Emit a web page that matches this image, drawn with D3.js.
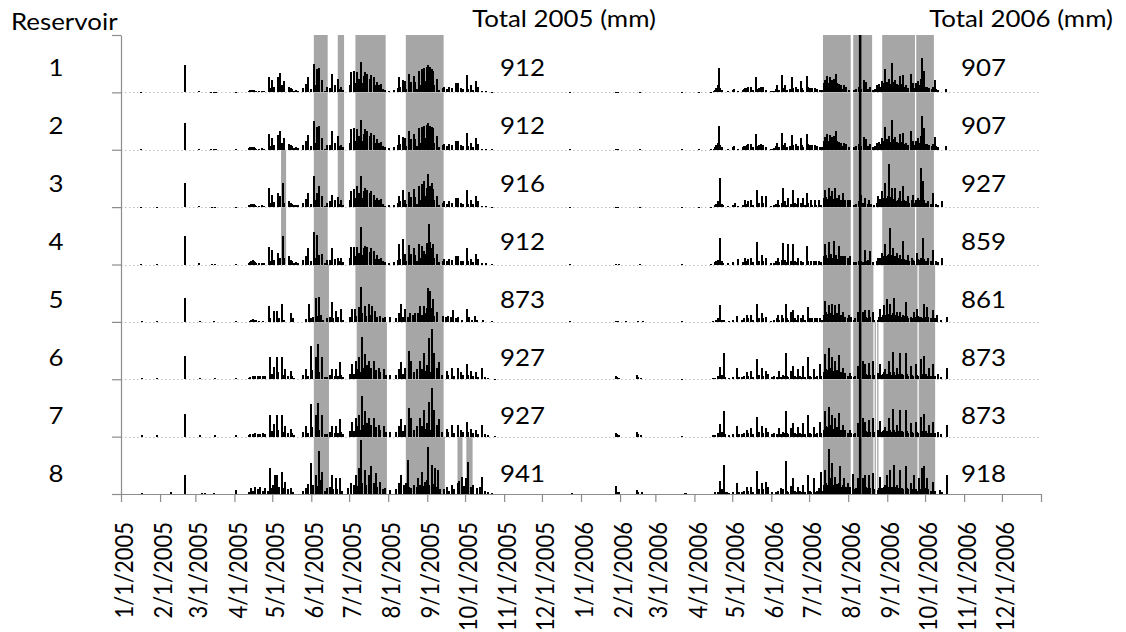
<!DOCTYPE html>
<html>
<head>
<meta charset="utf-8">
<script src="https://cdn.jsdelivr.net/npm/d3@7"></script>
<style>
  html, body { margin: 0; padding: 0; background: #fff; }
  svg { display: block; font-family: Lato, "Noto Sans", sans-serif; }
</style>
</head>
<body>
<svg id="chart" width="1126" height="632"></svg>
<script>
// ---- data ---------------------------------------------------------------
const reservoirs = ["1", "2", "3", "4", "5", "6", "7", "8"];
const total2005 = [912, 912, 916, 912, 873, 927, 927, 941];
const total2006 = [907, 907, 927, 859, 861, 873, 873, 918];
const headerLeft = "Reservoir";
const header2005 = "Total 2005 (mm)";
const header2006 = "Total 2006 (mm)";

// daily rainfall: [day offset from 1 January, mm]
const rain05_r1 = [[15,.5],[50,23.5],[61,1],[71,.5],[73,.5],[75,.5],[91,.5],[101,1.5],[102,2],[103,2.5],[104,2.5],[105,2],[106,1.5],[107,1],[109,1],[111,1.5],[113,1],[117,13.5],[118,3.5],[119,10.5],[121,4.5],[124,13],[126,17],[127,6],[129,10],[133,5],[134,4],[135,3],[137,1.5],[138,2],[140,1.5],[144,4],[146,7.5],[148,13],[150,3],[153,25],[154,6],[155,20],[157,21],[159,10.5],[161,1],[163,4.5],[165,4],[167,16],[169,6],[172,12],[173,3],[174,4.5],[176,2],[181,6],[182,18],[184,19],[185,8],[187,18],[188,12],[190,26.5],[191,8],[192,14],[193,18],[194,6],[195,16],[197,12],[198,15],[200,13],[201,6],[203,9],[204,6],[206,7],[207,3],[209,2],[212,1.5],[216,2],[219,4],[220,13],[221,5],[223,11],[225,10],[226,3],[228,16],[229,6],[230,9],[232,14],[233,9],[234,3],[236,19],[237,6],[238,20],[239,8],[240,21],[241,10],[242,22],[243,24],[244,12],[245,22],[246,20],[247,19],[248,6],[250,12],[252,2],[255,4],[256,5],[258,3],[260,5],[262,4],[265,8],[267,8],[269,4],[271,3],[274,15],[275,3],[277,6],[279,2.5],[281,10],[282,4],[283,5],[286,1],[289,1],[294,.5],[356,.5]];
const rain05_r2 = [[15,.5],[50,23],[61,1],[71,.5],[73,.5],[75,.5],[91,.5],[101,1.5],[102,2],[103,2.5],[104,2.5],[105,2],[106,1.5],[107,1],[109,1],[111,1.5],[113,1],[117,13.5],[118,3.5],[119,10.5],[121,4.5],[124,13],[126,16],[127,6],[129,10],[133,5],[134,4],[135,3],[137,1.5],[138,2],[140,1.5],[144,4],[146,7.5],[148,13],[150,3],[153,25],[154,6],[155,20],[157,21],[159,10.5],[161,1],[163,4.5],[165,4],[167,16],[169,6],[172,12],[173,3],[174,4.5],[176,2],[181,6],[182,18],[184,19],[185,8],[187,18],[188,12],[190,26],[191,8],[192,14],[193,18],[194,6],[195,16],[197,12],[198,15],[200,13],[201,6],[203,9],[204,6],[206,7],[207,3],[209,2],[212,1.5],[216,2],[219,4],[220,13],[221,5],[223,11],[225,10],[226,3],[228,16],[229,6],[230,9],[232,14],[233,9],[234,3],[236,19],[237,6],[238,20],[239,8],[240,21],[241,10],[242,22],[243,23.5],[244,12],[245,21],[246,20],[247,19],[248,6],[250,12],[252,2],[255,4],[256,5],[258,3],[260,5],[262,4],[265,8],[267,8],[269,4],[271,3],[274,15],[275,3],[277,6],[279,2.5],[281,10],[282,4],[283,5],[286,1],[289,1],[294,.5],[356,.5]];
const rain05_r3 = [[15,.5],[28,.3],[50,21],[61,1],[72,.5],[74,.5],[91,.5],[101,1.5],[102,2],[103,2.5],[104,3],[105,2.5],[106,1.5],[107,1],[109,1],[111,1.5],[113,1],[117,17],[118,3.5],[119,11],[121,4.5],[124,12],[126,10],[128,21],[129,4],[133,5],[134,4],[135,3],[137,1.5],[138,2],[140,1.5],[144,4],[146,7.5],[148,12],[150,3],[153,27],[154,6],[155,12],[157,18],[159,10],[161,1],[163,4],[165,5],[167,11],[169,6],[172,9],[173,3],[174,6],[176,2],[181,6],[182,14],[184,16],[185,8],[187,18],[188,12],[190,27],[191,8],[192,14],[193,17],[194,6],[195,15],[197,12],[198,14],[200,11],[201,6],[203,8],[204,6],[206,7],[207,3],[209,1],[212,1.5],[216,2],[219,4],[220,10],[221,5],[223,15],[225,6],[226,3],[228,13],[229,6],[230,9],[232,16],[233,9],[234,3],[236,18],[237,6],[238,20],[239,8],[240,23],[241,10],[242,17],[243,29],[244,12],[245,18],[246,21],[247,16],[248,6],[250,10],[252,2],[255,4],[256,5],[258,3],[260,5],[262,4],[265,8],[267,8],[269,4],[271,3],[274,15],[275,3],[277,6],[279,2.5],[281,10],[282,4],[283,5],[286,1],[289,1],[294,.5],[356,.5]];
const rain05_r4 = [[15,.5],[28,.5],[50,24.5],[61,1],[72,.5],[74,.5],[91,.5],[101,1.5],[102,2.5],[103,3],[104,4],[105,3],[106,2],[107,1],[109,1],[111,1.5],[113,1],[117,15],[118,3],[119,13],[121,4],[124,10],[126,6],[128,25],[129,6],[133,7],[134,4],[135,3],[137,1.5],[138,2],[140,1.5],[144,4],[146,7],[148,14],[150,3],[153,28],[154,6],[155,26],[157,8],[159,9],[161,1],[163,4],[165,4],[167,14],[169,5],[172,6],[173,3],[174,6],[176,2],[181,6],[182,15],[184,15],[185,7],[187,15],[188,10],[190,33],[191,8],[192,14],[193,16],[194,6],[195,15],[197,11],[198,14],[200,12],[201,5],[203,8],[204,5],[206,6],[207,3],[209,2],[212,1.5],[216,2],[219,4],[220,18],[221,5],[223,22],[225,9],[226,3],[228,17],[229,6],[230,9],[232,14],[233,8],[234,3],[236,18],[237,6],[238,16],[239,8],[240,12],[241,9],[242,19],[243,14],[244,35],[245,20],[246,14],[247,18],[248,6],[250,9],[252,2],[255,3],[256,5],[258,3],[260,5],[262,4],[265,7],[267,7],[269,3],[271,3],[274,14],[275,3],[277,5],[279,2.5],[281,9],[282,4],[283,5],[286,1],[289,1],[294,.5],[356,.5]];
const rain05_r5 = [[16,.5],[28,.5],[50,20.7],[62,1],[73,.5],[91,.5],[102,1],[103,2],[104,2.5],[105,2],[107,1.5],[109,1],[112,1],[117,14],[118,3],[121,9.6],[123,9.6],[125,3],[127,16],[129,2],[134,8],[136,3],[146,2.3],[149,16],[150,3],[152,4],[154,21],[155,5],[157,22],[158,6],[160,2],[163,3],[165,4],[167,17],[168,3],[170,9.6],[172,4],[174,11],[176,2],[181,4],[183,11],[185,11],[186,5],[188,13],[190,30.5],[191,8],[193,14],[194,5],[196,16],[197,6],[199,14],[201,9.6],[203,4],[205,5],[207,3],[209,4],[213,4],[218,3],[220,8],[222,15.4],[223,4],[225,11],[227,4],[229,8],[231,6],[233,8],[235,8],[237,13.4],[238,6],[240,13.4],[241,8],[242,12],[243,29.4],[244,10],[245,27],[246,12],[247,20],[248,5],[250,9],[255,5],[257,4],[259,5],[261,4],[263,10],[265,3],[267,4],[270,2],[274,11],[276,4],[278,2],[280,5],[282,2],[287,2],[294,.5],[356,.5]];
const rain05_r6 = [[16,1.5],[28,1],[50,20],[62,1],[74,1],[91,1.5],[101,1.5],[102,2],[104,2.5],[105,2.5],[106,3],[108,2.5],[110,2.5],[112,3],[114,2.5],[118,19],[119,5],[121,11],[123,19],[124,6],[127,19],[128,4],[130,9],[132,3],[134,7],[135,3],[137,1.5],[144,4],[146,9],[148,3],[150,29],[151,8],[154,19],[156,30.5],[157,6],[159,19],[161,2],[163,2],[165,4],[167,9],[169,3],[170,9],[172,3],[173,15],[174,4],[176,2],[181,5],[183,13],[184,5],[186,16],[187,9],[188,19],[189,6],[191,36.5],[192,10],[193,22],[195,12],[196,16],[198,10],[200,16],[201,5],[202,8],[204,10],[205,6],[208,9],[210,4],[213,4],[218,4],[220,9],[222,15],[223,5],[225,10],[228,25],[229,8],[230,16],[232,6],[234,9],[237,16],[238,9],[240,23],[241,7],[242,12],[244,36],[245,6],[246,44],[247,20],[248,23],[250,10],[252,15],[254,4],[258,7],[259,4],[262,10],[264,3],[267,10],[269,6],[271,4],[274,13],[275,4],[277,7],[279,3],[281,6],[283,2],[286,10],[288,2],[291,1.5],[296,.5]];
const rain05_r7 = [[16,1.5],[28,1],[50,20],[62,1],[74,1],[91,1.5],[101,1.5],[102,2],[104,2.5],[105,2.5],[106,3],[108,2.5],[110,2.5],[112,3],[114,2.5],[118,19],[119,5],[121,11],[123,19],[124,6],[127,19],[128,4],[130,9],[132,3],[134,7],[135,3],[137,1.5],[144,4],[146,9],[148,3],[150,28],[151,8],[154,19],[156,29.7],[157,6],[159,19],[161,2],[163,2],[165,4],[167,9],[169,3],[170,9],[172,3],[173,15],[174,4],[176,2],[181,5],[183,13],[184,5],[186,16],[187,9],[188,19],[189,6],[191,35.5],[192,10],[193,22],[195,12],[196,16],[198,10],[200,16],[201,5],[202,8],[204,10],[205,6],[208,9],[210,4],[213,4],[218,4],[220,9],[222,15],[223,5],[225,10],[228,25],[229,8],[230,16],[232,6],[234,9],[237,16],[238,9],[240,23],[241,7],[242,12],[244,30],[245,6],[246,42.8],[247,20],[248,23],[250,10],[252,15],[254,4],[258,7],[259,4],[262,10],[264,3],[267,10],[269,6],[271,4],[274,13],[275,4],[277,7],[279,3],[281,6],[283,2],[286,10],[288,2],[291,1.5],[296,.5]];
const rain05_r8 = [[16,.5],[39,2],[50,16.6],[64,1],[66,.5],[73,1],[91,3.5],[101,2],[103,5],[104,3],[106,6],[108,4],[110,6.4],[112,3],[114,5],[116,3],[118,22.4],[119,5],[120,8],[122,16.6],[123,16.6],[125,6],[127,19.5],[128,5],[130,10.8],[132,4],[134,5],[136,2],[144,3],[146,5],[148,9],[150,26.8],[151,6],[152,8],[154,16.6],[155,7],[157,37.6],[158,12],[159,19.5],[161,3],[163,5],[165,6],[167,16.6],[168,4],[170,13.7],[171,4],[173,13.7],[175,3],[180,5],[182,9.3],[184,8],[186,16.6],[187,7],[188,22.4],[190,47],[191,10],[193,21],[194,8],[196,16.6],[197,6],[198,24],[200,10],[202,18],[203,6],[205,10.8],[207,4],[209,5],[213,3.5],[218,4],[220,9.3],[221,5],[222,16.6],[224,8],[226,10],[227,29.7],[228,6],[230,5],[232,8],[234,6],[235,13.7],[237,8],[238,19.5],[239,7],[241,10.8],[242,12],[243,41.3],[244,8],[246,25.3],[247,9],[249,22.4],[250,6],[251,21],[253,4],[256,4],[258,6.4],[260,3],[262,7.9],[264,4],[267,9.3],[268,11],[270,15],[272,7],[273,14],[275,28.2],[277,6],[279,7.9],[282,5],[284,6],[286,15],[288,3],[291,2],[294,.5],[357,.5]];

const rain06_r1 = [[27,.5],[29,.5],[46,.5],[80,.5],[93,.5],[103,.5],[105,1],[106,2],[107,4],[108,6],[109,21],[110,4],[111,2],[116,1],[120,2],[121,3],[124,1],[128,2],[129,3],[130,3.5],[131,4],[132,5],[134,5],[136,2],[138,13.5],[139,3],[141,4],[142,5],[143,3],[144,4.5],[146,2.5],[150,1],[151,1],[153,1.5],[154,3],[155,6],[157,2],[159,15],[160,4],[161,6],[163,2],[165,3],[167,13],[168,4],[170,5],[172,3],[174,10],[175,4],[176,2],[179,14],[180,5],[181,4],[182,2],[183,4],[185,4],[187,3],[189,2],[191,2],[192,8],[193,11],[194,9],[195,14],[196,8],[197,13],[198,6],[199,11],[200,12],[201,5],[202,16],[203,8],[204,7],[205,4],[206,6],[207,3],[208,6],[209,4],[210,5],[212,2],[216,2],[218,3],[220,5],[222,3],[224,11],[225,4],[226,9],[227,3],[229,5],[231,2],[233,3],[234,6],[235,4],[236,7],[237,5],[238,10],[239,5],[240,8],[241,20],[242,9],[243,6],[244,12],[245,7],[246,26],[247,9],[248,5],[249,11],[250,7],[251,4],[252,6],[253,14],[254,7],[255,15],[256,5],[257,6],[258,3],[259,4],[261,16],[262,6],[263,8],[264,4],[265,8],[266,5],[267,10],[268,6],[269,12],[270,30],[271,8],[272,19],[273,5],[274,5],[275,3],[276,4],[278,3],[279,5],[280,11],[281,3],[283,2],[289,3]];
const rain06_r2 = [[27,.5],[29,.5],[46,.5],[80,.5],[93,.5],[103,.5],[105,1],[106,2],[107,4],[108,6],[109,20.5],[110,4],[111,2],[116,1],[120,2],[121,3],[124,1],[128,2],[129,3],[130,3.5],[131,4],[132,5],[134,5],[136,2],[138,13.5],[139,3],[141,4],[142,5],[143,3],[144,4.5],[146,2.5],[150,1],[151,1],[153,1.5],[154,3],[155,6],[157,2],[159,15],[160,4],[161,6],[163,2],[165,3],[167,13],[168,4],[170,5],[172,3],[174,10],[175,4],[176,2],[179,14],[180,5],[181,4],[182,2],[183,4],[185,4],[187,3],[189,2],[191,2],[192,8],[193,11],[194,9],[195,14],[196,8],[197,13],[198,6],[199,11],[200,12],[201,5],[202,16],[203,8],[204,7],[205,4],[206,6],[207,3],[208,6],[209,4],[210,5],[212,2],[216,2],[218,3],[220,5],[222,3],[224,11],[225,4],[226,9],[227,3],[229,5],[231,2],[233,3],[234,6],[235,4],[236,7],[237,5],[238,10],[239,5],[240,8],[241,20],[242,9],[243,6],[244,12],[245,7],[246,25.5],[247,9],[248,5],[249,11],[250,7],[251,4],[252,6],[253,14],[254,7],[255,15],[256,5],[257,6],[258,3],[259,4],[261,16],[262,6],[263,8],[264,4],[265,8],[266,5],[267,10],[268,6],[269,12],[270,29],[271,8],[272,19],[273,5],[274,5],[275,3],[276,4],[278,3],[279,5],[280,11],[281,3],[283,2],[289,3]];
const rain06_r3 = [[27,.5],[29,.5],[46,.5],[80,.5],[93,.5],[103,.5],[106,2],[107,3],[108,5],[110,25],[111,3],[112,2],[116,1],[120,2],[122,3.5],[124,1],[128,2],[130,6.4],[131,3],[132,5],[134,6.4],[136,2],[139,15],[140,3],[141,4],[143,9.3],[144,4],[146,9.3],[150,1],[153,1.5],[154,3],[156,6.4],[157,2],[159,4],[160,17],[161,5],[163,2],[164,8],[166,3],[168,15],[169,4],[170,3],[172,8],[174,4],[176,8],[177,2],[179,12],[180,4],[182,6.4],[183,2],[185,6.4],[186,2],[188,6.4],[190,2],[192,8],[193,15],[194,9],[195,7],[196,16.6],[197,6],[198,10],[199,13.7],[200,7],[201,16.6],[202,6],[203,8],[204,10.8],[205,4],[206,6],[207,12.2],[208,5],[209,6.4],[211,6.4],[213,6.4],[216,2],[218,3],[220,5],[222,10.8],[223,4],[225,8],[227,3],[228,6.4],[230,3],[232,2],[234,4],[235,9.3],[236,5],[237,7],[238,13.7],[239,5],[240,8],[241,21],[242,8],[243,10],[244,37.3],[245,9],[246,16.6],[247,6],[248,7],[249,16.6],[250,5],[251,6],[252,8],[253,13.7],[254,5],[255,18],[256,6],[257,5],[258,3],[259,9.3],[260,4],[262,6],[263,10.8],[264,4],[265,6],[266,5],[267,8],[268,6],[269,34.2],[270,9],[271,22.4],[272,6],[273,4],[275,5],[277,3],[279,12.2],[281,3],[283,2],[286,5]];
const rain06_r4 = [[27,.5],[30,.5],[46,.5],[80,.5],[103,.5],[106,2],[107,3],[108,4],[110,23.3],[111,3],[112,1.5],[116,1],[120,2],[124,4.4],[128,2],[130,5.8],[131,3],[132,5],[134,5.8],[136,2],[139,19.8],[140,3],[141,3],[143,8.7],[144,3],[146,5.8],[150,1],[153,1.5],[154,3],[156,5.8],[157,2],[159,4],[160,19],[161,4],[163,2],[164,17.5],[166,3],[168,17.5],[169,3],[170,2],[172,5.8],[174,3],[176,2],[179,16],[180,3],[182,3],[184,3],[186,3],[188,3],[190,2],[192,7],[193,17.5],[194,8],[195,6],[196,19.8],[197,7],[198,9],[199,6],[200,20.4],[201,7],[202,8],[203,5],[204,16],[205,5],[206,7],[207,7],[208,4],[209,7],[211,6],[213,7],[216,2],[218,2],[220,3],[222,3],[223,2],[225,13],[226,3],[227,4],[229,11.6],[231,2],[234,3],[235,5.8],[236,4],[237,6],[238,10.2],[239,4],[240,7],[241,17.5],[242,7],[243,8],[244,9],[245,32],[246,8],[247,14.5],[248,5],[249,7],[250,10.2],[251,4],[252,6],[253,8],[254,5],[255,20.4],[256,5],[257,4],[258,3],[259,8.7],[260,3],[262,5.8],[263,4],[264,3],[266,10.2],[267,5],[268,4],[269,6],[270,4],[271,22.7],[272,5],[273,3],[275,5.8],[277,3],[279,13],[281,3],[283,2],[286,5.8]];
const rain06_r5 = [[27,.5],[29,.5],[35,.5],[45,.5],[49,.5],[80,.5],[104,.5],[107,2],[108,3],[110,14.5],[111,2],[113,1.5],[117,1],[120,1.5],[123,5],[127,2],[129,3],[131,6],[132,3],[134,6],[136,2],[139,16],[140,3],[141,3],[143,7.3],[144,3],[146,4.4],[150,1],[153,1.5],[155,3],[156,5.8],[157,2],[159,5.8],[160,3],[162,16],[163,3],[164,2],[166,8.7],[167,3],[168,10],[169,3],[170,2],[172,5.8],[174,3],[176,5.8],[177,2],[180,13],[181,3],[183,3],[185,3],[187,3],[189,3],[191,2],[192,6],[193,18],[194,9],[195,7],[196,14.5],[197,6],[198,8],[199,16],[200,6],[201,14.5],[202,5],[203,8],[204,16],[205,4],[206,6],[207,8.7],[208,3],[209,4.4],[211,3],[212,5.8],[214,4.4],[216,2],[217,3],[219,8.7],[220,3],[221,2],[223,8.7],[224,3],[225,10],[226,4],[227,3],[228,10],[229,4],[231,8.7],[232,2],[235,1.5],[236,4],[237,11.6],[238,4],[239,6],[240,14.5],[241,6],[242,19.5],[243,7],[244,5],[245,16],[246,6],[247,8],[248,21],[249,6],[250,8.7],[251,4],[252,5],[253,8.7],[254,4],[255,6],[256,5],[257,17.5],[258,5],[259,3],[261,4.4],[262,3],[264,8.7],[265,4],[266,11.6],[267,5],[268,4],[269,4],[270,3],[272,16],[273,4],[274,13],[275,4],[277,3],[279,10],[280,3],[282,5.8],[285,2],[290,4.4]];
const rain06_r6 = [[27,3],[28,2],[30,1],[44,3.8],[45,2],[47,1.5],[80,.5],[104,1.5],[105,1],[106,1.5],[108,3],[110,11],[111,4],[113,23],[114,2],[117,1],[120,2],[123,9.6],[125,2],[127,2],[129,3],[131,6],[132,3],[134,7.3],[136,2],[139,17.5],[140,3],[141,4],[143,9.6],[144,3],[146,7.3],[148,4.4],[151,2],[153,3],[155,2],[157,7.3],[158,2],[160,4],[161,3],[162,22.7],[163,3],[164,2],[166,7.3],[167,3],[168,11.6],[169,3],[170,2],[172,8.7],[173,3],[174,2],[176,11.6],[177,2],[180,19],[181,3],[182,2],[184,8.7],[185,2],[187,3],[189,13],[190,3],[192,6],[193,22],[194,9],[195,8],[196,27],[197,7],[198,10],[199,19],[200,7],[201,16],[202,6],[203,8],[204,21],[205,5],[206,6],[207,10],[208,4],[209,5.8],[211,3],[213,5.8],[214,3],[216,2],[217,3],[219,11.6],[220,4],[221,3],[223,16],[224,4],[225,13],[226,5],[227,4],[228,14.5],[229,4],[231,16],[232,4],[235,5.8],[236,3],[237,13.7],[238,4],[239,5],[240,6],[241,8.7],[242,5],[244,16],[245,6],[246,4],[247,24],[248,6],[249,4],[250,10],[251,5],[253,23],[254,5],[255,4],[257,23],[258,5],[259,3],[261,11.6],[262,4],[263,3],[265,13],[266,4],[267,3],[269,17.5],[270,5],[272,20],[273,5],[274,3],[276,10],[277,3],[279,13],[280,3],[283,4.4],[285,2],[290,10]];
const rain06_r7 = [[27,3],[28,2],[30,1],[44,3.6],[45,2],[47,1.5],[80,.5],[104,1.5],[105,1],[106,1.5],[108,3],[110,11],[111,4],[113,22.5],[114,2],[117,1],[120,2],[123,9.6],[125,2],[127,2],[129,3],[131,6],[132,3],[134,7.3],[136,2],[139,17.5],[140,3],[141,4],[143,9.6],[144,3],[146,7.3],[148,4.4],[151,2],[153,3],[155,2],[157,7.3],[158,2],[160,4],[161,3],[162,22.7],[163,3],[164,2],[166,7.3],[167,3],[168,11.6],[169,3],[170,2],[172,8.7],[173,3],[174,2],[176,11.6],[177,2],[180,19],[181,3],[182,2],[184,8.7],[185,2],[187,3],[189,13],[190,3],[192,6],[193,22],[194,9],[195,8],[196,26],[197,7],[198,10],[199,19],[200,7],[201,16],[202,6],[203,8],[204,21],[205,5],[206,6],[207,10],[208,4],[209,5.8],[211,3],[213,5.8],[214,3],[216,2],[217,3],[219,11.6],[220,4],[221,3],[223,16],[224,4],[225,13],[226,5],[227,4],[228,14.5],[229,4],[231,16],[232,4],[235,5.8],[236,3],[237,13.7],[238,4],[239,5],[240,6],[241,8.7],[242,5],[244,16],[245,6],[246,4],[247,24],[248,6],[249,4],[250,10],[251,5],[253,23],[254,5],[255,4],[257,23],[258,5],[259,3],[261,11.6],[262,4],[263,3],[265,13],[266,4],[267,3],[269,17.5],[270,5],[272,20],[273,5],[274,3],[276,10],[277,3],[279,13],[280,3],[283,4.4],[285,2],[290,10]];
const rain06_r8 = [[27,7.3],[28,2],[30,1.5],[44,3.2],[45,1.5],[48,1.5],[82,.5],[83,.5],[106,2],[108,2],[110,11],[111,4],[113,25],[114,2],[115,2],[117,1],[120,2],[123,9.3],[125,2],[127,2],[129,3],[131,6.4],[132,3],[134,6.4],[136,2],[139,20],[140,3],[141,4],[143,9.3],[144,4],[146,10.8],[148,6.4],[151,2],[154,2],[156,3],[158,5],[159,2],[160,4],[162,28.8],[163,3],[164,2],[166,7.3],[167,3],[168,13.7],[169,3],[170,2],[172,6.4],[173,3],[174,2],[176,7.9],[177,2],[180,16.6],[181,3],[182,2],[184,14.3],[185,2],[187,3],[188,5],[190,19.5],[191,3],[192,8],[193,21],[194,10],[195,8],[196,39],[197,10],[198,14],[199,26.8],[200,8],[201,15],[202,7],[203,9],[204,10],[205,24],[206,6],[207,8],[208,13.7],[209,5],[210,6],[211,9.3],[212,4],[213,6],[215,17],[216,4],[218,5],[219,13.7],[220,5],[221,6],[223,13.7],[224,5],[225,16.6],[226,6],[227,5],[228,16.6],[229,5],[231,18],[232,4],[235,3.5],[236,5],[237,15],[238,5],[239,4],[240,6],[241,8],[242,16.6],[243,6],[244,5],[245,21],[246,6],[247,5],[248,25],[249,6],[250,7.9],[251,5],[253,21],[254,5],[255,4],[257,24],[258,5],[259,4],[261,9.3],[262,4],[264,16.6],[265,4],[266,3],[268,13.7],[269,4],[270,22.4],[271,6],[272,24],[273,5],[274,13.7],[275,4],[277,3],[279,10.8],[280,3],[284,3.5],[286,2],[290,16.6]];

// shaded wet periods per reservoir: [year, first day offset, last day offset]
const periods_r1 = [[2005,153,163],[2005,172,176],[2005,186,209],[2005,226,255],[2006,192,213],[2006,216,230],[2006,239,264],[2006,266,279]];
const periods_r2 = [[2005,153,163],[2005,172,176],[2005,186,209],[2005,226,255],[2006,192,213],[2006,216,230],[2006,239,264],[2006,266,279]];
const periods_r3 = [[2005,127,130],[2005,153,163],[2005,172,176],[2005,186,209],[2005,226,255],[2006,192,213],[2006,216,230],[2006,239,264],[2006,266,279]];
const periods_r4 = [[2005,127,130],[2005,153,163],[2005,186,209],[2005,226,255],[2006,192,213],[2006,216,230],[2006,239,264],[2006,266,279]];
const periods_r5 = [[2005,153,164],[2005,186,209],[2005,226,255],[2006,192,213],[2006,216,231],[2006,240,266],[2006,268,280]];
const periods_r6 = [[2005,153,164],[2005,187,210],[2005,226,255],[2006,192,213],[2006,216,231],[2006,233,233],[2006,235,235],[2006,240,266],[2006,268,280]];
const periods_r7 = [[2005,153,164],[2005,187,210],[2005,226,255],[2006,192,213],[2006,216,231],[2006,233,233],[2006,235,235],[2006,240,266],[2006,268,280]];
const periods_r8 = [[2005,153,164],[2005,187,210],[2005,226,256],[2005,267,270],[2005,274,278],[2006,192,213],[2006,216,231],[2006,233,233],[2006,235,235],[2006,240,266],[2006,268,280]];

// single-day marker drawn across all reservoirs
const markerDay = [2006, 221];

// ---- assembly -----------------------------------------------------------
const rainByRow = [
  [rain05_r1, rain06_r1], [rain05_r2, rain06_r2], [rain05_r3, rain06_r3], [rain05_r4, rain06_r4],
  [rain05_r5, rain06_r5], [rain05_r6, rain06_r6], [rain05_r7, rain06_r7], [rain05_r8, rain06_r8]
];
const periodsByRow = [periods_r1, periods_r2, periods_r3, periods_r4, periods_r5, periods_r6, periods_r7, periods_r8];
const years = [2005, 2006];

const svg = d3.select("#chart");
const FONT = 22.5, STRETCH = 1.15;
const axisGrey = "#8c8c8c";
const BAR_W = 2;

const x = d3.scaleUtc()
  .domain([new Date(Date.UTC(2005, 0, 1)), new Date(Date.UTC(2007, 0, 1))])
  .range([121, 1041]);
const rowSpan = 50;                         // mm shown per reservoir strip
const y = d3.scaleLinear().domain([0, rowSpan * 8]).range([494, 35]);
const dayX = (yr, d) => x(new Date(Date.UTC(yr, 0, 1 + d)));
const rowBase = i => (7 - i) * rowSpan;

// shaded periods
const gBands = svg.append("g");
periodsByRow.forEach((list, i) => {
  gBands.selectAll(null).data(list).join("rect")
    .attr("x", p => dayX(p[0], p[1]))
    .attr("width", p => dayX(p[0], p[2] + 1) - dayX(p[0], p[1]))
    .attr("y", y(rowBase(i) + rowSpan))
    .attr("height", y(rowBase(i)) - y(rowBase(i) + rowSpan))
    .attr("fill", "#a6a6a6");
});

// dotted baselines of each strip
svg.append("g").selectAll("line").data(d3.range(0, 7)).join("line")
  .attr("x1", 121).attr("x2", 1040)
  .attr("y1", i => Math.round(y(rowBase(i))) + 0.5)
  .attr("y2", i => Math.round(y(rowBase(i))) + 0.5)
  .attr("stroke", "#bfbfbf").attr("stroke-width", 1)
  .attr("stroke-dasharray", "1.5,2.5");

// daily bars
const gBars = svg.append("g").attr("shape-rendering", "crispEdges");
rainByRow.forEach((pair, i) => {
  pair.forEach((series, k) => {
    const yr = years[k];
    gBars.selectAll(null).data(series).join("rect")
      .attr("x", d => Math.round((dayX(yr, d[0]) + dayX(yr, d[0] + 1)) / 2 - BAR_W / 2))
      .attr("width", BAR_W)
      .attr("y", d => y(rowBase(i) + d[1]))
      .attr("height", d => Math.max(1, y(rowBase(i)) - y(rowBase(i) + d[1])))
      .attr("fill", "#000");
  });
});

// marker day
const mx = (dayX(markerDay[0], markerDay[1]) + dayX(markerDay[0], markerDay[1] + 1)) / 2;
svg.append("line")
  .attr("x1", mx).attr("x2", mx)
  .attr("y1", y(rowSpan * 8)).attr("y2", y(0))
  .attr("stroke", "#000").attr("stroke-width", 2.5);

// axes
const months = d3.utcMonth.range(new Date(Date.UTC(2005, 0, 1)), new Date(Date.UTC(2007, 0, 2)));
const gx = svg.append("g").attr("transform", `translate(0,${y(0)})`)
  .call(d3.axisBottom(x).tickValues(months).tickSize(8).tickSizeOuter(0).tickFormat(""));
const gy = svg.append("g").attr("transform", "translate(121,0)")
  .call(d3.axisLeft(y).tickValues(d3.range(0, rowSpan * 8 + 1, rowSpan)).tickSize(9).tickSizeOuter(0).tickFormat(""));
[gx, gy].forEach(g => {
  g.selectAll("path, line").attr("stroke", axisGrey).attr("stroke-width", 1.2);
});

// month labels
const fmt = d3.utcFormat("%-m/%-d/%Y");
svg.append("g").selectAll("text").data(months.slice(0, -1)).join("text")
  .attr("transform", d => `translate(${x(d) + 3},522) scale(${STRETCH},1) rotate(-90)`)
  .attr("text-anchor", "end").attr("dy", "0.36em")
  .attr("font-size", 22).attr("fill", "#000")
  .text(d => fmt(d));

// texts
function label(txt, px, py, anchor) {
  svg.append("text")
    .attr("transform", `translate(${px},${py}) scale(${STRETCH},1)`)
    .attr("text-anchor", anchor).attr("font-size", FONT).attr("fill", "#000")
    .text(txt);
}
label(headerLeft, 11, 30, "start");
label(header2005, 564, 27, "middle");
label(header2006, 1021, 27, "middle");
reservoirs.forEach((r, i) => {
  const by = 76 + i * 58;
  label(r, 56, by, "middle");
  label(String(total2005[i]), 500, by, "start");
  label(String(total2006[i]), 961, by, "start");
});
</script>
</body>
</html>
